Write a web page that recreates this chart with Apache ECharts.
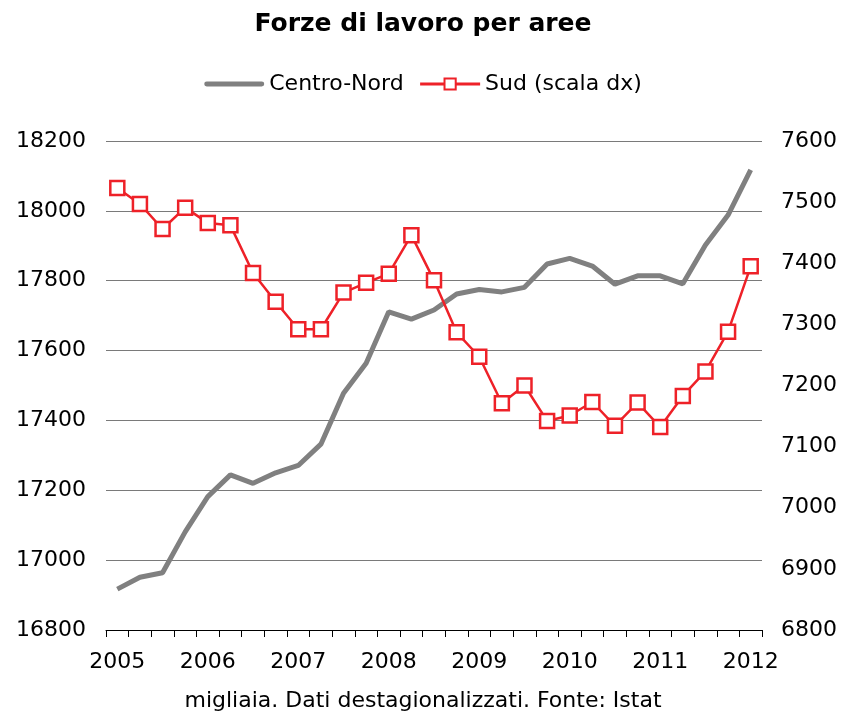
<!DOCTYPE html>
<html>
<head>
<meta charset="utf-8">
<script src="https://cdn.jsdelivr.net/npm/echarts@6/dist/echarts.min.js"></script>
<style>
  html, body { margin: 0; padding: 0; background: #fff; }
  #main { width: 846px; height: 715px; }
</style>
</head>
<body>
<div id="main"></div>
<script>
// trimestri 2005 T1 - 2012 T1
var quarters = [];
for (var y = 2005; y <= 2012; y++) {
  for (var q = 1; q <= 4; q++) {
    if (y === 2012 && q > 1) break;
    quarters.push(y + ' T' + q);
  }
}

// Centro-Nord (scala sx, migliaia)
var centroNord = [16917, 16951, 16964, 17081, 17182, 17244, 17220, 17250, 17271, 17332,
                  17478, 17564, 17711, 17690, 17716, 17762, 17775, 17768, 17781, 17848,
                  17864, 17842, 17790, 17814, 17814, 17791, 17902, 17988, 18117];

// Sud (scala dx, migliaia)
var sud = [7523, 7497, 7456, 7491, 7466, 7462, 7384, 7337, 7292, 7292,
           7352, 7368, 7383, 7446, 7372, 7287, 7247, 7171, 7200, 7142,
           7151, 7173, 7134, 7172, 7132, 7183, 7223, 7288, 7395];

var font = 'DejaVu Sans';
var plain = function (v) { return String(v); };

var myChart = echarts.init(document.getElementById('main'));

var option = {
  backgroundColor: '#fff',
  animation: false,
  title: {
    text: 'Forze di lavoro per aree',
    left: 'center',
    top: 7,
    textStyle: { fontFamily: font, fontSize: 25, fontWeight: 'bold', color: '#000' }
  },
  legend: {
    top: 68,
    left: 'center',
    itemWidth: 60,
    itemHeight: 14,
    itemGap: 15,
    textStyle: { fontFamily: font, fontSize: 22, color: '#000' },
    data: [
      // barra grigia spessa, centrata nel riquadro 60x14
      { name: 'Centro-Nord', icon: 'path://M0,0 M0,14 M2,4.5 L58,4.5 A2.5,2.5 0 0 1 58,9.5 L2,9.5 A2.5,2.5 0 0 1 2,4.5 Z' },
      { name: 'Sud (scala dx)', lineStyle: { width: 3 } }
    ]
  },
  grid: {
    left: 106,
    right: 84,
    top: 141,
    bottom: 85
  },
  xAxis: {
    type: 'category',
    data: quarters,
    boundaryGap: true,
    axisLine: { lineStyle: { color: '#000', width: 1 } },
    axisTick: { show: true, interval: 0, length: 7, lineStyle: { color: '#000' } },
    axisLabel: {
      interval: 3,
      margin: 21,
      fontFamily: font,
      fontSize: 22,
      color: '#000',
      formatter: function (v) { return v.slice(0, 4); }
    },
    splitLine: { show: false }
  },
  yAxis: [
    {
      type: 'value',
      min: 16800,
      max: 18200,
      interval: 200,
      axisLine: { show: false },
      axisTick: { show: false },
      axisLabel: { fontFamily: font, fontSize: 22, color: '#000', margin: 20, formatter: plain },
      splitLine: { lineStyle: { color: '#7a7a7a', width: 1 } }
    },
    {
      type: 'value',
      min: 6800,
      max: 7600,
      interval: 100,
      axisLine: { show: false },
      axisTick: { show: false },
      axisLabel: { fontFamily: font, fontSize: 22, color: '#000', margin: 19, formatter: plain },
      splitLine: { show: false }
    }
  ],
  series: [
    {
      name: 'Centro-Nord',
      type: 'line',
      yAxisIndex: 0,
      data: centroNord,
      symbol: 'none',
      lineStyle: { color: '#808080', width: 5 },
      itemStyle: { color: '#808080' }
    },
    {
      name: 'Sud (scala dx)',
      type: 'line',
      yAxisIndex: 1,
      data: sud,
      symbol: 'rect',
      symbolSize: 14,
      lineStyle: { color: '#ee2128', width: 2.5 },
      itemStyle: { color: '#fff', borderColor: '#ee2128', borderWidth: 2.5 }
    }
  ],
  graphic: [
    {
      type: 'text',
      left: 'center',
      top: 690,
      style: {
        text: 'migliaia. Dati destagionalizzati. Fonte: Istat',
        fontFamily: font,
        fontSize: 22,
        fill: '#000'
      }
    }
  ]
};

myChart.setOption(option);
</script>
</body>
</html>
